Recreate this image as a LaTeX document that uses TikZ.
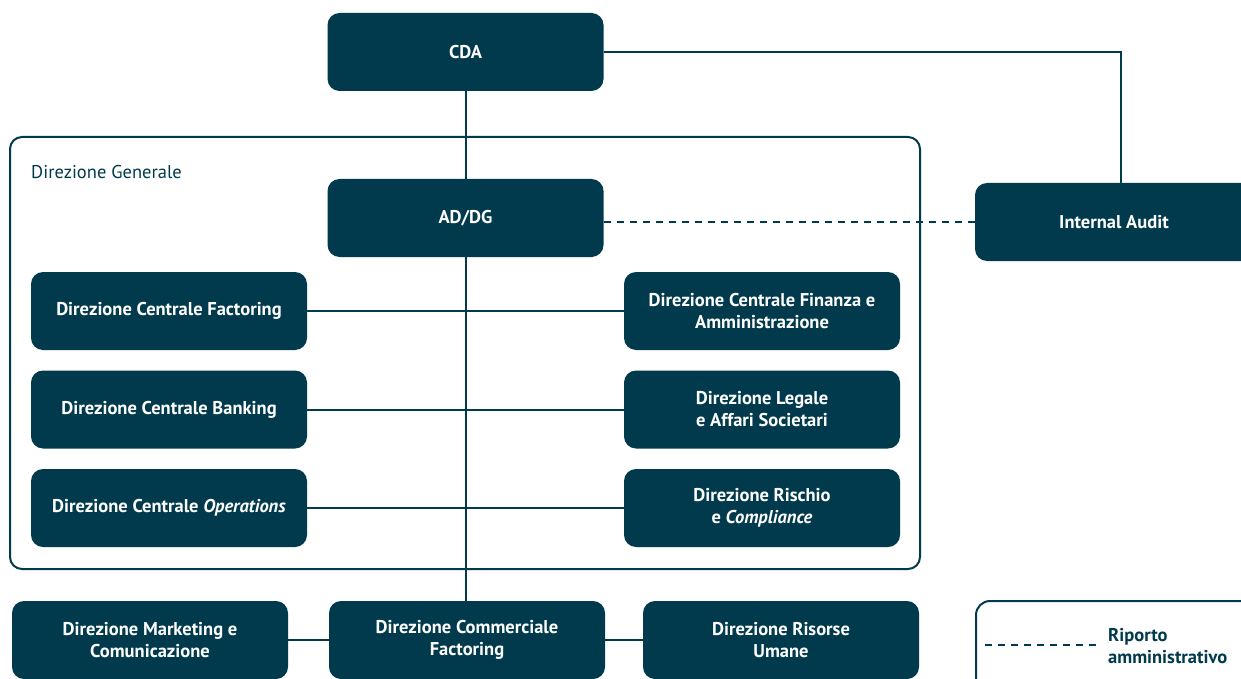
\documentclass[tikz,border=0pt]{standalone}
\usepackage{fontspec}
\setmainfont{PT Sans}
\definecolor{teal}{HTML}{003A4C}
\begin{document}
\begin{tikzpicture}[x=1pt,y=-1pt,
  box/.style={fill=teal,draw=none,rounded corners=12pt,minimum width=276pt,minimum height=78pt,
    text=white,font=\bfseries\fontsize{18.5}{22}\selectfont,align=center,inner sep=0pt},
  conn/.style={draw=teal,line width=2pt},
  dconn/.style={draw=teal,line width=2pt,dash pattern=on 7pt off 6pt}]
\useasboundingbox (0,0) rectangle (1241,679);
\begin{scope}
\clip (0,0) rectangle (1241,679);
% frame
\draw[teal,line width=2pt,rounded corners=12pt] (10,137) rectangle (920,569);
\node[anchor=west,text=teal,font=\fontsize{18.5}{22}\selectfont,inner sep=0pt] (dg) at (31,172) {Direzione Generale};
% legend
\draw[teal,line width=2pt,rounded corners=14pt] (976,601) rectangle (1260,700);
\node[box] (cda) at (465.5,52) {CDA};
\node[box] (ad) at (465.5,218) {AD/DG};
\node[box,minimum width=278pt] (ia) at (1114,222) {Internal Audit};
\node[box] (dcf) at (169,311) {Direzione Centrale Factoring};
\node[box] (dfa) at (762,311) {Direzione Centrale Finanza e\\Amministrazione};
\node[box] (dcb) at (169,409.5) {Direzione Centrale Banking};
\node[box] (dla) at (762,409.5) {Direzione Legale\\e Affari Societari};
\node[box] (dco) at (169,508) {Direzione Centrale \textit{Operations}};
\node[box] (drc) at (762,508) {Direzione Rischio\\e \textit{Compliance}};
\node[box] (dmc) at (150,640) {Direzione Marketing e\\Comunicazione};
\node[box] (dcm) at (467,640) {Direzione Commerciale\\Factoring};
\node[box] (dru) at (781,640) {Direzione Risorse\\Umane};
\coordinate (l1) at (985,645);
\coordinate (l2) at (1096,645);
\coordinate (iac) at (1121,52);
\draw[dconn] (l1) -- (l2);
\node[anchor=west,text=teal,font=\bfseries\fontsize{18.5}{22}\selectfont,align=left,inner sep=0pt] (leg) at (1108,646) {Riporto\\amministrativo};
% connectors
\draw[conn] (cda.south) -- (ad.north);
\draw[conn] (ad.south) -- (ad.south |- dcm.north);
\draw[conn] (cda.east) -- (iac) -- (iac |- ia.north);
\draw[dconn] (ad.east |- ia.west) -- (ia.west);
\draw[conn] (dcf.east) -- (dfa.west);
\draw[conn] (dcb.east) -- (dla.west);
\draw[conn] (dco.east) -- (drc.west);
\draw[conn] (dmc.east) -- (dcm.west);
\draw[conn] (dcm.east) -- (dru.west);
\end{scope}
\end{tikzpicture}
\end{document}
